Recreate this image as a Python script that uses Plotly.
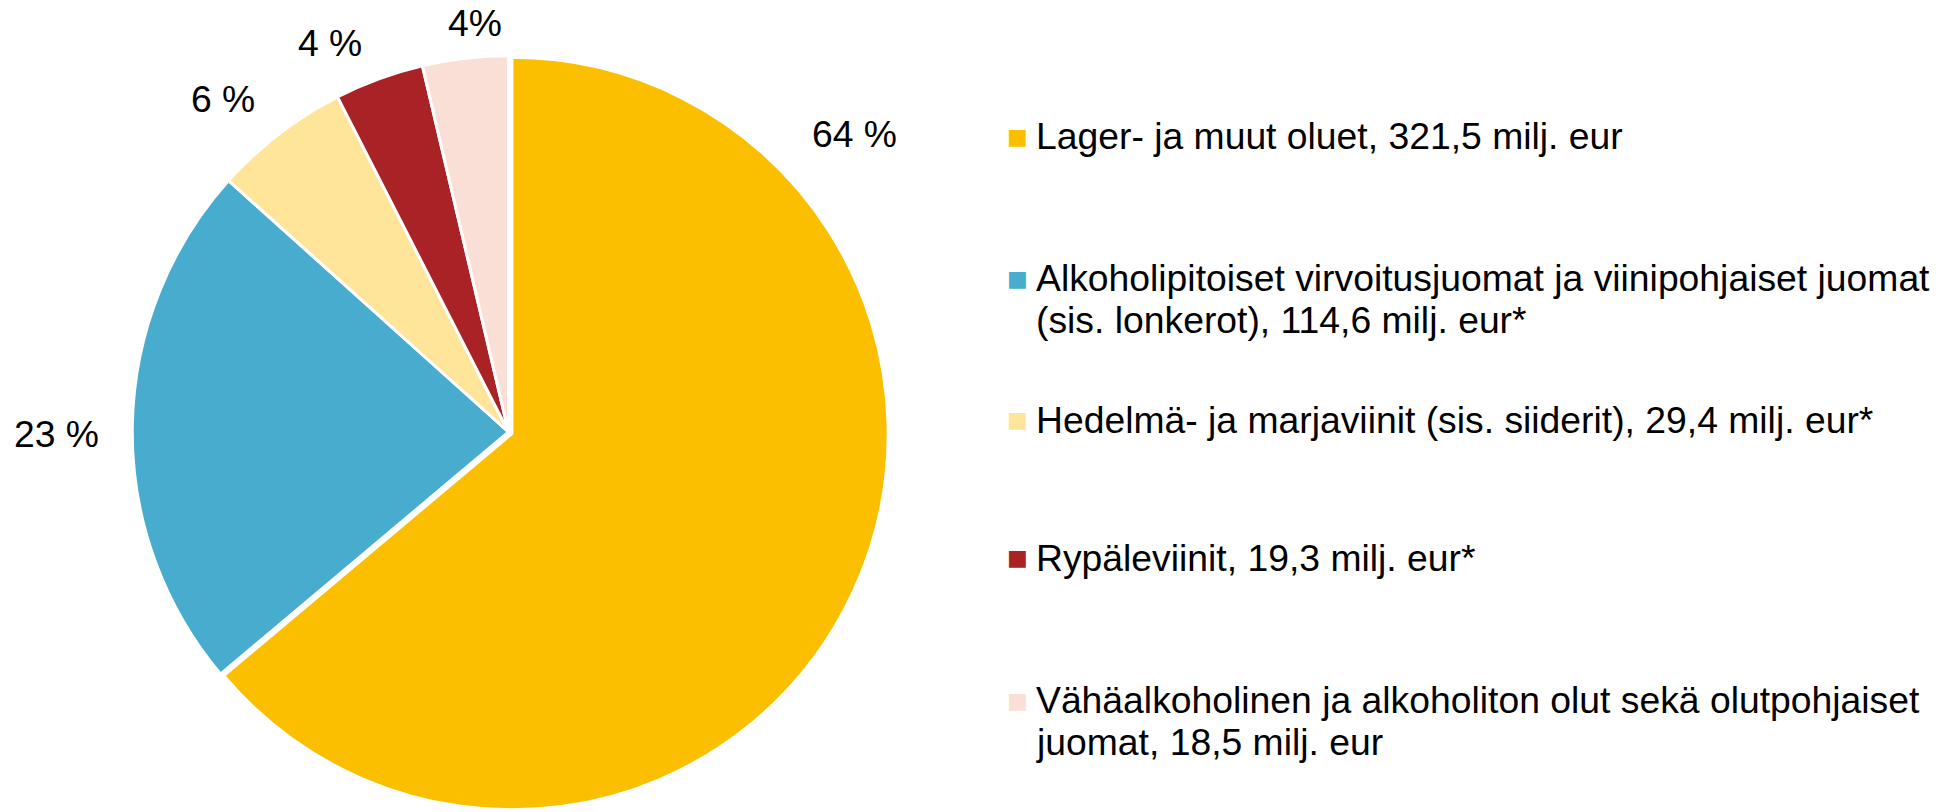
import plotly.graph_objects as go

# ---- data ----
categories = [
    "Lager- ja muut oluet, 321,5 milj. eur",
    "Alkoholipitoiset virvoitusjuomat ja viinipohjaiset juomat<br>(sis. lonkerot), 114,6 milj. eur*",
    "Hedelmä- ja marjaviinit (sis. siiderit), 29,4 milj. eur*",
    "Rypäleviinit, 19,3 milj. eur*",
    "Vähäalkoholinen ja alkoholiton olut sekä olutpohjaiset<br>juomat, 18,5 milj. eur",
]
values = [321.5, 114.6, 29.4, 19.3, 18.5]
pct_suffix = [" %", " %", " %", " %", "%"]

# ---- styles / layout ----
colors = ["#FBBF00", "#48ACCF", "#FFE59A", "#A82226", "#FADFD6"]
W, H = 1957, 812
FONT = "Liberation Sans, Arial, sans-serif"
FS = 37.3

# pie geometry (px)
pie_top, pie_bottom = 52, 812
pie_cx = 508.5
r = (pie_bottom - pie_top) / 2
dom_x = [(pie_cx - r) / W, (pie_cx + r) / W]
dom_y = [1 - pie_bottom / H, 1 - pie_top / H]

# percentage label centres (px)
label_pos = [(854, 134), (56, 434), (223, 99), (330, 43), (475, 23)]

# legend layout (px)
leg_sq_x = 1017.5
leg_text_x = 1034
leg_first_y = [136, 278, 419.5, 557.5, 700]
leg_line_gap = 42

fig = go.Figure(
    go.Pie(
        labels=[c.replace("<br>", " ") for c in categories],
        values=values,
        sort=False,
        direction="clockwise",
        rotation=0,
        pull=[0.01, 0, 0, 0, 0],
        marker=dict(colors=colors, line=dict(color="white", width=3)),
        textinfo="none",
        domain=dict(x=dom_x, y=dom_y),
        showlegend=False,
    )
)

total = sum(values)
annotations = []
for v, suf, (px, py) in zip(values, pct_suffix, label_pos):
    annotations.append(dict(
        text=f"{round(100 * v / total)}{suf}",
        x=px / W, y=1 - py / H, xref="paper", yref="paper",
        xanchor="center", yanchor="middle", showarrow=False,
        font=dict(family=FONT, size=FS, color="black"),
    ))

for cat, col, y0 in zip(categories, colors, leg_first_y):
    annotations.append(dict(
        text="■", x=leg_sq_x / W, y=1 - y0 / H, xref="paper", yref="paper",
        xanchor="center", yanchor="middle", showarrow=False,
        font=dict(family="DejaVu Sans", size=22, color=col),
    ))
    for i, line in enumerate(cat.split("<br>")):
        annotations.append(dict(
            text=line, x=leg_text_x / W, y=1 - (y0 + i * leg_line_gap) / H,
            xref="paper", yref="paper", xanchor="left", yanchor="middle",
            showarrow=False, font=dict(family=FONT, size=FS, color="black"),
        ))

fig.update_layout(
    width=W, height=H,
    margin=dict(l=0, r=0, t=0, b=0),
    paper_bgcolor="white", plot_bgcolor="white",
    annotations=annotations,
    font=dict(family=FONT),
)

fig.write_html("out.html")
